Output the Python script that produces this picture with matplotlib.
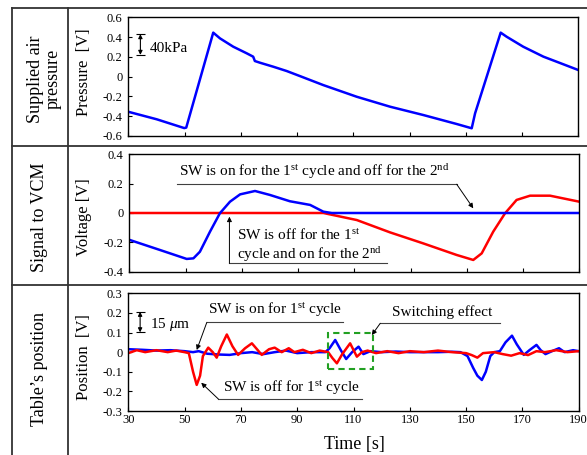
import matplotlib
matplotlib.use('Agg')
import matplotlib.pyplot as plt
from matplotlib.lines import Line2D
from matplotlib.patches import Rectangle

plt.rcParams['font.family'] = ['Liberation Serif', 'DejaVu Serif']
plt.rcParams['mathtext.fontset'] = 'custom'
plt.rcParams['mathtext.rm'] = 'Liberation Serif'
plt.rcParams['mathtext.it'] = 'Liberation Serif:italic'

# ---------------- data ----------------
x_ticks = [30, 50, 70, 90, 110, 130, 150, 170, 190]

# supplied air pressure [V]
p_t = [30, 40.1, 49.9, 50.6, 60.2, 62.6, 67.3, 72.1, 74.4, 75.0, 76.8, 81.6, 86.3,
       91.0, 99.3, 111.2, 123.1, 134.9, 146.8, 152.1, 153.3, 162.4, 164.5, 170.4,
       177.6, 182.3, 190]
p_v = [-0.355, -0.431, -0.52, -0.515, 0.445, 0.387, 0.303, 0.236, 0.202, 0.158,
       0.141, 0.10, 0.057, 0.006, -0.085, -0.203, -0.304, -0.388, -0.479, -0.522,
       -0.371, 0.445, 0.404, 0.303, 0.202, 0.151, 0.067]
p_yticks = [-0.6, -0.4, -0.2, 0, 0.2, 0.4, 0.6]
p_ylabels = ['-0.6', '-0.4', '-0.2', '0', '0.2', '0.4', '0.6']

# signal to VCM [V]
vb_t = [30.2, 40.9, 50.4, 52.8, 55.1, 58.7, 62.2, 65.8, 69.4, 74.7, 80.0, 87.1,
        94.3, 99.0, 102, 110, 120, 130, 140, 150, 160, 170, 180, 190]
vb_v = [-0.184, -0.252, -0.313, -0.309, -0.264, -0.127, -0.002, 0.077, 0.127,
        0.15, 0.123, 0.08, 0.055, 0.009, 0.0, 0.0, 0.0, 0.0, 0.0, 0.0, 0.0, 0.0,
        0.0, 0.0]
vr_t = [30, 40, 50, 60, 70, 80, 90, 99, 110.9, 122.7, 134.5, 146.4, 152.3, 155.3,
        159.4, 163.6, 167.7, 172.5, 179.6, 190]
vr_v = [0.0, 0.0, 0.0, 0.0, 0.0, 0.0, 0.0, 0.0, -0.048, -0.132, -0.207, -0.286,
        -0.32, -0.275, -0.127, -0.002, 0.089, 0.118, 0.118, 0.077]
v_yticks = [-0.4, -0.2, 0, 0.2, 0.4]
v_ylabels = ['-0.4', '-0.2', '0', '0.2', '0.4']

# table's position [V]
xb_t = [30, 35, 40, 45, 50, 53, 55, 58, 62, 66, 70, 74, 78, 82, 86, 90, 95, 100,
        101.5, 103.5, 105.5, 107.4, 109.5, 111.8, 113.5, 116, 120, 125, 130, 135,
        140, 145, 148, 150.5, 152.5, 154, 155.6, 157, 158.6, 160, 162, 164, 166.3,
        168, 170.5, 172.5, 175, 176.5, 178.2, 180.5, 183, 185, 188, 190]
xb_v = [0.015, 0.012, 0.008, 0.01, 0.005, 0.0, 0.005, -0.008, -0.012, -0.014,
        -0.005, 0.0, -0.01, 0.0, 0.008, -0.005, 0.0, 0.0, 0.02, 0.062, 0.01,
        -0.035, 0.0, 0.028, -0.01, 0.005, 0.0, 0.003, 0.0, 0.0, 0.0, 0.002, 0.0,
        -0.02, -0.08, -0.12, -0.142, -0.1, -0.02, 0.0, 0.005, 0.05, 0.084, 0.04,
        -0.014, 0.01, 0.037, 0.01, -0.01, 0.005, 0.02, 0.0, 0.01, 0.005]
xr_t = [30, 33, 36, 40, 44, 47, 50, 51.5, 53, 54.3, 55.5, 56.5, 58.4, 60, 61.4,
        63, 65, 67, 69, 71.5, 73.9, 76, 77.4, 80, 82, 84.5, 87, 89, 92, 95, 98,
        101, 102.5, 104.1, 106, 108.8, 111.2, 113, 115, 118, 122, 126, 130, 135,
        140, 145, 150, 152, 154, 156, 160, 163, 166, 169, 172, 175, 178, 182, 186,
        190]
xr_v = [-0.005, 0.01, 0.0, 0.01, 0.0, 0.008, 0.0, -0.005, -0.1, -0.167, -0.12,
        -0.02, 0.023, 0.0, -0.028, 0.03, 0.09, 0.03, -0.014, 0.02, 0.045, 0.01,
        -0.014, 0.015, 0.023, 0.0, 0.02, 0.0, 0.012, -0.005, 0.008, 0.0, -0.03,
        -0.057, -0.01, 0.045, -0.023, 0.0, 0.008, -0.005, 0.005, -0.005, 0.005,
        0.0, 0.008, 0.0, -0.005, -0.015, -0.028, -0.005, 0.0, -0.01, -0.018,
        -0.005, -0.015, 0.005, 0.0, 0.01, 0.0, 0.005]
x_yticks = [-0.3, -0.2, -0.1, 0, 0.1, 0.2, 0.3]
x_ylabels = ['-0.3', '-0.2', '-0.1', '0', '0.1', '0.2', '0.3']

# ---------------- figure ----------------
W, H = 587, 455
fig = plt.figure(figsize=(W / 100, H / 100), dpi=100)


def add_ax(l, t, r, b):
    return fig.add_axes([l / W, 1 - b / H, (r - l) / W, (b - t) / H])


def fig_line(x0, y0, x1, y1, **kw):
    fig.add_artist(Line2D([x0 / W, x1 / W], [1 - y0 / H, 1 - y1 / H],
                          transform=fig.transFigure, **kw))


ax1 = add_ax(128.3, 17.3, 578.3, 136)
ax2 = add_ax(129.3, 154.3, 579.3, 271.7)
ax3 = add_ax(128.3, 293.3, 578.7, 411)

for ax, yt, yl in [(ax1, p_yticks, p_ylabels), (ax2, v_yticks, v_ylabels),
                   (ax3, x_yticks, x_ylabels)]:
    ax.set_xlim(30, 190)
    ax.set_ylim(yt[0], yt[-1])
    ax.set_xticks(x_ticks)
    ax.set_yticks(yt)
    ax.set_yticklabels(yl)
    ax.tick_params(direction='in', length=3, width=0.8, labelsize=9, pad=4,
                   top=False, right=False)
    ax.tick_params(axis='x', pad=2)
    for s in ax.spines.values():
        s.set_linewidth(1.0)
ax1.set_xticklabels([])
ax2.set_xticklabels([])

# curves
ax1.plot(p_t, p_v, color='#0000ff', lw=1.8)
ax2.plot(vr_t, vr_v, color='#ff0000', lw=1.8)
ax2.plot(vb_t, vb_v, color='#0000ff', lw=1.8)
ax3.plot(xb_t, xb_v, color='#0000ff', lw=1.8)
ax3.plot(xr_t, xr_v, color='#ff0000', lw=1.8)

arr = dict(arrowstyle='-|>', color='k', lw=0.7, mutation_scale=7,
           shrinkA=0, shrinkB=0)
dbl = dict(arrowstyle='<|-|>', color='k', lw=0.8, mutation_scale=6,
           shrinkA=0, shrinkB=0)
ul = dict(color='0.25', lw=0.8)

# pressure panel: 40kPa scale bar
ax1.hlines([0.43, 0.22], 32.7, 35.9, color='k', lw=0.8)
ax1.annotate('', xy=(34.3, 0.43), xytext=(34.3, 0.22), arrowprops=dbl)
ax1.text(37.7, 0.25, '40kPa', fontsize=11, va='baseline')

# VCM panel annotations
ax2.text(47.5, 0.25, r'SW is on for the 1$^{\mathrm{st}}$ cycle and off for the 2$^{\mathrm{nd}}$',
         fontsize=11, va='baseline')
ax2.plot([46.8, 146.4], [0.196, 0.196], **ul)
ax2.annotate('', xy=(152.3, 0.032), xytext=(146.4, 0.196), arrowprops=arr)
ax2.text(68.4, -0.184, r'SW is off for the 1$^{\mathrm{st}}$', fontsize=11, va='baseline')
ax2.text(68.4, -0.316, r'cycle and on for the 2$^{\mathrm{nd}}$', fontsize=11, va='baseline')
ax2.plot([65.6, 121.5], [-0.343, -0.343], **ul)
ax2.annotate('', xy=(65.6, -0.025), xytext=(65.6, -0.343), arrowprops=arr)

# position panel annotations
ax3.hlines([0.206, 0.101], 32.7, 35.9, color='k', lw=0.8)
ax3.annotate('', xy=(34.2, 0.206), xytext=(34.2, 0.101), arrowprops=dbl)
ax3.text(37.7, 0.122, r'15 $\mu$m', fontsize=11, va='baseline')

ax3.text(58.4, 0.194, r'SW is on for 1$^{\mathrm{st}}$ cycle', fontsize=11, va='baseline')
ax3.plot([57.9, 106.4], [0.152, 0.152], **ul)
ax3.annotate('', xy=(54.3, 0.011), xytext=(57.9, 0.152), arrowprops=arr)

ax3.text(63.6, -0.202, r'SW is off for 1$^{\mathrm{st}}$ cycle', fontsize=11, va='baseline')
ax3.plot([62.0, 113.0], [-0.239, -0.239], **ul)
ax3.annotate('', xy=(55.9, -0.156), xytext=(62.0, -0.239), arrowprops=arr)

ax3.add_patch(Rectangle((100.8, -0.085), 16.0, 0.185, fill=False,
                        ec='#22a022', lw=1.5, ls=(0, (3, 2)), zorder=5))
ax3.text(123.7, 0.184, 'Switching effect', fontsize=11, va='baseline')
ax3.plot([119.5, 162.1], [0.147, 0.147], **ul)
ax3.annotate('', xy=(116.5, 0.087), xytext=(119.5, 0.147), arrowprops=arr)

# axis labels
fig.text(84.5 / W, 1 - 72.5 / H, 'Pressure  [V]', rotation=90, ha='center', va='center', fontsize=12)
fig.text(84.5 / W, 1 - 217.5 / H, 'Voltage [V]', rotation=90, ha='center', va='center', fontsize=12)
fig.text(84.5 / W, 1 - 357 / H, 'Position  [V]', rotation=90, ha='center', va='center', fontsize=12)
fig.text(354.5 / W, 1 - 444 / H, 'Time [s]', ha='center', va='center', fontsize=13)

# row titles
fig.text(44 / W, 1 - 79 / H, 'Supplied air\npressure', rotation=90, ha='center',
         va='center', fontsize=13, linespacing=1.05)
fig.text(40 / W, 1 - 217 / H, 'Signal to VCM', rotation=90, ha='center', va='center', fontsize=13)
fig.text(40 / W, 1 - 369 / H, 'Table\u2019s position', rotation=90, ha='center', va='center', fontsize=13)

# table frame
frame = dict(color='0.2', lw=1.3)
fig_line(12, 8, 587, 8, **frame)
fig_line(12, 145.5, 587, 145.5, **frame)
fig_line(12, 285, 587, 285, **frame)
fig_line(12, 8, 12, 455, **frame)
fig_line(68, 8, 68, 455, **frame)

fig.savefig('out.png', dpi=100)
